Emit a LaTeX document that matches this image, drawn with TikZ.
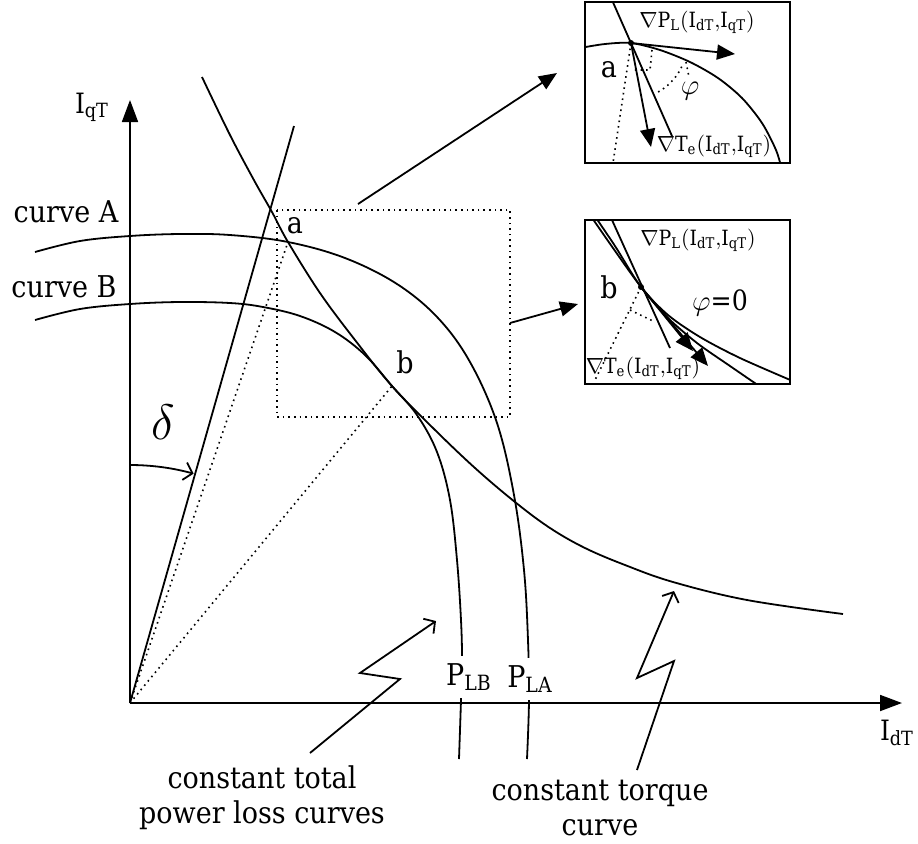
\documentclass[tikz,border=0pt]{standalone}
\usepackage{fontspec}
\setmainfont{DejaVu Serif Condensed}
\usetikzlibrary{arrows.meta, positioning, calc}
\newcommand{\idq}{(\mathrm{I}_{\mathrm{dT}}{,}\mathrm{I}_{\mathrm{qT}})}
\newcommand{\gradPL}{$\nabla\mathrm{P}_{\mathrm{L}}\idq$}
\newcommand{\gradTe}{$\nabla\mathrm{T}_{\mathrm{e}}\idq$}

\begin{document}
\begin{tikzpicture}[x=0.5pt, y=-0.5pt, line width=0.9pt,
  txt/.style={font=\fontsize{15}{17.5}\selectfont, inner sep=1pt},
  small/.style={font=\fontsize{10.5}{12}\selectfont, inner sep=0.5pt},
  bigtip/.style={-{Triangle[length=11pt,width=8pt]}},
  tip/.style={-{Triangle[length=9pt,width=7.5pt]}},
  barb/.style={-{Straight Barb[length=4pt,width=9pt]}},
  dots/.style={dotted, line width=0.8pt}]
  \useasboundingbox (0,0) rectangle (918,843);
  \coordinate (O) at (130,703);
  \coordinate (pa) at (288,242);
  \coordinate (pb) at (392,386);

  % loss curves A, B and torque curve
  \draw plot[smooth, tension=0.6] coordinates {(35,252) (80,241) (130,236) (180,234) (230,235) (288,242) (345,258) (397,284) (438,318) (470,362) (497,423) (514,495) (524,570) (528,640) (529,700) (527,759)};
  \draw plot[smooth, tension=0.6] coordinates {(35,320) (80,309) (130,304) (180,302) (230,303) (263,307) (300,316) (335,332) (365,355) (392,386) (417,415) (437,452) (450,500) (457,560) (461,620) (462,660) (461,700) (459,759)};
  \draw plot[smooth, tension=0.6] coordinates {(202,77) (230,135) (255,182) (272,212) (288,242) (320,293) (355,340) (392,386) (433,428) (475,468) (515,502) (550,528) (585,548) (625,565) (673,582) (747,600) (843,614)};

  \foreach \x/\y/\lab in {469/677/LB, 530/679/LA}
    \node[txt, fill=white, inner ysep=4pt] (P\lab) at (\x,\y) {$\mathrm{P}_{\mathrm{\lab}}$};

  \draw[bigtip] (O) -- (130,100);
  \draw[bigtip] (O) -- (902,703);
  \node[txt, font=\fontsize{14}{15}\selectfont] (Iq) at (92,107) {$\mathrm{I}_{\mathrm{qT}}$};
  \node[txt, font=\fontsize{14}{15}\selectfont] (Id) at (897,733) {$\mathrm{I}_{\mathrm{dT}}$};

  \draw (O) -- (294,126);
  \draw[dots] (O) -- (pa);
  \draw[dots] (O) -- (pb);
  \draw[dots] (277,210) rectangle (510,417);
  \draw[barb] (130,465) arc[start angle=-90, end angle=-74.5, radius=238];
  \node[font=\fontsize{26}{26}\selectfont] (dl) at (163,422) {$\delta$};

  \node[txt] (cA) at (66,212) {curve A};
  \node[txt] (cB) at (64,287) {curve B};
  \node[txt] (la) at (295,226) {a};
  \node[txt] (lb) at (405,362) {b};

  \draw[barb] (310,753) -- (400,679) -- (360,673) -- (436,621);
  \draw[barb] (637,770) -- (674,661) -- (637,678) -- (674,591);
  \node[txt, align=center] (lossL) at (262,798) {constant total\\power loss curves};
  \node[txt, align=center] (torqL) at (600,808) {constant torque\\curve};

  \coordinate (z1) at (358,204);
  \coordinate (z2) at (510,323);
  \draw[tip] (z1) -- (557,73);
  \draw[tip] (z2) -- (578,304);

  % inset at a
  \coordinate (qa) at (631,43);
  \draw (585,2) rectangle (790,163);
  \begin{scope}
    \clip (585,2) rectangle (790,163);
    \draw plot[smooth] coordinates {(580,48) (605,44) (631,43) (660,50) (690,62) (718,78) (742,98) (762,123) (776,150) (782,170)};
    \draw (612,0) -- (672,136);
  \end{scope}
  \fill (qa) circle (3);
  \draw[tip] (qa) -- (735,54);
  \draw[tip] (qa) -- (651,147);
  \draw[dots] (qa) -- (613,163);
  \draw[dots] (652,50) -- (650,70) -- (633,70);
  \draw[dots] ($(qa)+(61:56)$) arc[start angle=61, end angle=21, radius=56];
  \draw[dots] (686,62) -- (689,77);
  \node[small] (gPa) at (697,22) {\gradPL};
  \node[small] (gTa) at (714,146) {\gradTe};
  \node[txt] (ia) at (609,70) {a};
  \node[txt] (phia) at (690,91) {$\varphi$};

  % inset at b
  \coordinate (qb) at (641,287);
  \draw (585,220) rectangle (790,384);
  \begin{scope}
    \clip (585,220) rectangle (790,384);
    \draw plot[smooth] coordinates {(592,212) (615,246) (641,287) (668,315) (700,337) (740,358) (795,382)};
    \draw plot[smooth] coordinates {(588,212) (613,248) (641,287) (667,317) (697,343) (730,366) (765,390)};
    \draw (612,220) -- (670,348);
  \end{scope}
  \fill (qb) circle (3);
  \draw[tip] (qb) -- (693,351);
  \draw[tip] (qb) -- (708,366);
  \draw[dots] (qb) -- (595,380);
  \draw[dots] (630,310) -- (655,322);
  \node[small] (gPb) at (698,240) {\gradPL};
  \node[small] (gTb) at (643,368) {\gradTe};
  \node[txt] (ib) at (609,287) {b};
  \node[font=\fontsize{14}{16}\selectfont] (phib) at (720,303) {$\varphi$=0};
\end{tikzpicture}
\end{document}
